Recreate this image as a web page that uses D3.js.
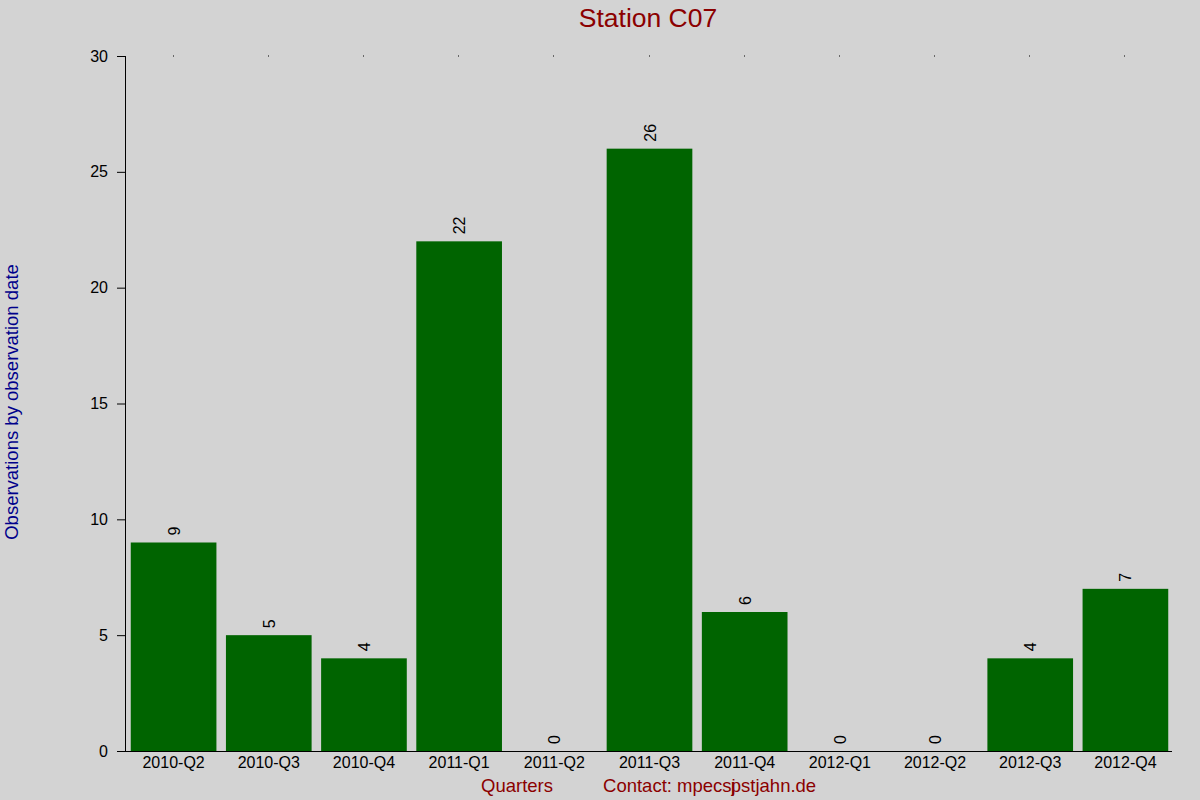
<!DOCTYPE html>
<html><head><meta charset="utf-8">
<script src="https://cdn.jsdelivr.net/npm/d3@7"></script>
<style>body{margin:0;background:#d3d3d3;}svg{display:block;font-family:"Liberation Sans",Arial,sans-serif;}</style>
</head><body>
<svg id="c" width="1200" height="800"></svg>
<script>
const categories = ["2010-Q2","2010-Q3","2010-Q4","2011-Q1","2011-Q2","2011-Q3","2011-Q4","2012-Q1","2012-Q2","2012-Q3","2012-Q4"];
const values = [9,5,4,22,0,26,6,0,0,4,7];
const yTicks = [0,5,10,15,20,25,30];

const FONT = "Liberation Sans, Arial, sans-serif";
const svg = d3.select("#c");
svg.append("rect").attr("width",1200).attr("height",800).attr("fill","#d3d3d3");
const x = d3.scaleBand().domain(categories).range([126,1173]).paddingInner(0.1).paddingOuter(0.05);
const y = d3.scaleLinear().domain([0,30]).range([751,56]);

// bars
svg.selectAll("rect.bar").data(values).enter().append("rect")
  .attr("class","bar")
  .attr("x",(d,i)=>x(categories[i]))
  .attr("width",x.bandwidth())
  .attr("y",d=>y(d))
  .attr("height",d=>y(0)-y(d))
  .attr("fill","#006400");

// value labels
svg.selectAll("text.val").data(values).enter().append("text")
  .attr("class","val")
  .attr("transform",(d,i)=>`translate(${x(categories[i])+x.bandwidth()/2+6},${y(d)-7}) rotate(-90)`)
  .attr("font-size",16).attr("font-family",FONT).attr("fill","#000")
  .text(d=>d);

// y axis
const yAxis = d3.axisLeft(y).tickValues(yTicks).tickSize(8).tickPadding(9);
const gy = svg.append("g").attr("transform","translate(125,0)").call(yAxis);
gy.select(".domain").attr("stroke","#000").attr("d","M0.5,56V751.5");
gy.selectAll(".tick line").attr("stroke","#000");
gy.selectAll(".tick text").attr("font-size",16).attr("fill","#000").attr("font-family",FONT);

// x axis
const xAxis = d3.axisBottom(x).tickSize(0).tickPadding(6);
const gx = svg.append("g").attr("transform","translate(0,751)").call(xAxis);
gx.select(".domain").attr("stroke","#000").attr("d","M117,0.5H1172");
gx.selectAll(".tick text").attr("font-size",16).attr("fill","#000").attr("font-family",FONT);

// top tiny tick dots
svg.selectAll("rect.dot").data(categories).enter().append("rect")
  .attr("class","dot")
  .attr("x",d=>Math.round(x(d)+x.bandwidth()/2)-1)
  .attr("y",55.5).attr("width",1).attr("height",1).attr("fill","#000");

// title
svg.append("text").attr("x",648).attr("y",27).attr("text-anchor","middle")
  .attr("font-size",26.5).attr("font-family",FONT).attr("fill","#8b0000").text("Station C07");

// y title
svg.append("text").attr("transform","translate(18,402) rotate(-90)").attr("text-anchor","middle")
  .attr("font-size",18.5).attr("font-family",FONT).attr("fill","#00008b").text("Observations by observation date");

// x title + contact
svg.append("text").attr("x",517).attr("y",792).attr("text-anchor","middle")
  .attr("font-size",18.5).attr("font-family",FONT).attr("fill","#8b0000").text("Quarters");
const contact = "Contact: mpecsjpstjahn.de";
const dxs = contact.split("").map((c,i)=> i === contact.indexOf("jp")+1 ? -5 : 0).join(" ");
svg.append("text").attr("x",603).attr("y",792).attr("dx",dxs)
  .attr("font-size",18.5).attr("font-family",FONT).attr("fill","#8b0000").text(contact);
</script>
</body></html>
